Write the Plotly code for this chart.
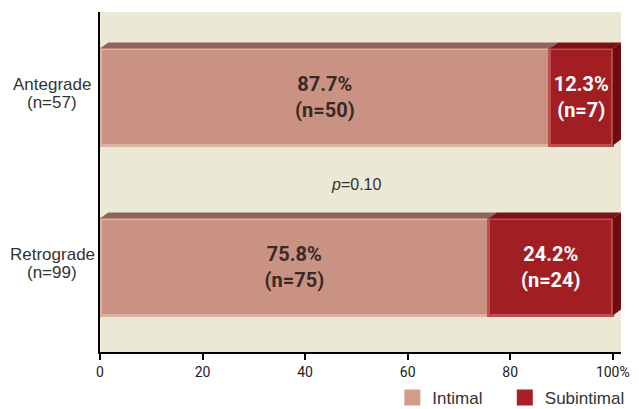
import plotly.graph_objects as go

categories = ["Antegrade<br>(n=57)", "Retrograde<br>(n=99)"]
intimal_pct = [87.7, 75.8]
intimal_n = [50, 75]
sub_pct = [12.3, 24.2]
sub_n = [7, 24]
x_ticks = [0, 20, 40, 60, 80, 100]
x_ticktext = ["0", "20", "40", "60", "80", "100%"]
p_text = "<i>p</i>=0.10"

COND = "Roboto, Liberation Sans, sans-serif"
REG = "Liberation Sans, Arial, sans-serif"

C_INT = "#c99282"
C_INT_EDGE = "#ddb2a3"
C_INT_TOP = "#8e655b"
C_INT_LEG = "#d59b8b"
C_SUB = "#a11e23"
C_SUB_EDGE = "#be4f4f"
C_SUB_TOP = "#7c1014"
C_SUB_SIDE = "#6f0a0e"
C_SUB_LEG = "#a81f25"

BAR_W = 0.57
PX_PER_UNIT_Y = 340 / 2.0
HALF = BAR_W * PX_PER_UNIT_Y / 2
DX = 1.6   # depth in x (data units)
DY = 6     # depth in y (pixels)

fig = go.Figure()
fig.add_bar(
    y=categories, x=intimal_pct, orientation="h", name="Intimal",
    marker=dict(color=C_INT, line=dict(color=C_INT_EDGE, width=3)),
    width=BAR_W,
    text=[f"{p}%<br>(n={n})" for p, n in zip(intimal_pct, intimal_n)],
    textposition="inside", insidetextanchor="middle", textangle=0,
    textfont=dict(family=COND, size=20, color="#3a2a27", weight="bold"),
    showlegend=False, hoverinfo="skip",
)
fig.add_bar(
    y=categories, x=sub_pct, orientation="h", name="Subintimal",
    marker=dict(color=C_SUB, line=dict(color=C_SUB_EDGE, width=3)),
    width=BAR_W,
    text=[f"{p}%<br>(n={n})" for p, n in zip(sub_pct, sub_n)],
    textposition="inside", insidetextanchor="middle", textangle=0,
    textfont=dict(family=COND, size=20, color="white", weight="bold"),
    showlegend=False, hoverinfo="skip",
)
# legend entries
fig.add_scatter(x=[None], y=[None], mode="markers", name="Intimal", legend="legend",
                marker=dict(symbol="square", size=16, color=C_INT_LEG))
fig.add_scatter(x=[None], y=[None], mode="markers", name="Subintimal", legend="legend2",
                marker=dict(symbol="square", size=16, color=C_SUB_LEG))

# 3D top faces and right side face
shapes = []
for i in range(len(categories)):
    segs = [(0, intimal_pct[i], C_INT_TOP), (intimal_pct[i], intimal_pct[i] + sub_pct[i], C_SUB_TOP)]
    for a, b, col in segs:
        path = (f"M{a},{HALF} L{b},{HALF} L{b + DX},{HALF + DY} "
                f"L{a + DX},{HALF + DY} Z")
        shapes.append(dict(type="path", path=path, xref="x", yref="y",
                           ysizemode="pixel", yanchor=i,
                           fillcolor=col, line=dict(width=0), layer="above"))
    end = intimal_pct[i] + sub_pct[i]
    path = (f"M{end},{HALF} L{end + DX},{HALF + DY} L{end + DX},{-HALF + DY} "
            f"L{end},{-HALF} Z")
    shapes.append(dict(type="path", path=path, xref="x", yref="y",
                       ysizemode="pixel", yanchor=i,
                       fillcolor=C_SUB_SIDE, line=dict(width=0), layer="above"))

annotations = [dict(x=50, y=0.5, xref="x", yref="y", text=p_text, showarrow=False,
                    yshift=-2, font=dict(family=REG, size=16, color="#333"))]
for i, cat in enumerate(categories):
    lines = cat.split("<br>")
    for j, line in enumerate(lines):
        annotations.append(dict(x=0, y=i, xref="paper", yref="y", text=line, showarrow=False,
                                xanchor="center", yanchor="middle",
                                xshift=-48, yshift=(len(lines) - 1) * 9 - j * 18 + 4,
                                font=dict(family=REG, size=17, color="#333")))

leg_common = dict(orientation="h", xref="container", yref="paper",
                  xanchor="left", y=-0.135, yanchor="middle",
                  font=dict(family=REG, size=17, color="#333"),
                  bgcolor="rgba(0,0,0,0)")

fig.update_layout(
    width=639, height=409,
    margin=dict(l=100, r=18, t=12, b=57, autoexpand=False),
    paper_bgcolor="white", plot_bgcolor="#ece8d6",
    barmode="stack",
    shapes=shapes,
    showlegend=True,
    legend=dict(x=0.614, **leg_common),
    legend2=dict(x=0.790, **leg_common),
    annotations=annotations,
)
fig.update_xaxes(range=[0, 101.6], tickvals=x_ticks, ticktext=x_ticktext,
                 showgrid=False, zeroline=False, showline=True, linecolor="black",
                 linewidth=2, ticks="outside", ticklen=6, tickwidth=1.5, tickcolor="black",
                 tickfont=dict(family=COND, size=14, color="#222"))
fig.update_yaxes(range=[1.5, -0.5], showgrid=False, zeroline=False, showline=True,
                 linecolor="black", linewidth=2, ticks="", showticklabels=False)

fig.write_html("out.html")
